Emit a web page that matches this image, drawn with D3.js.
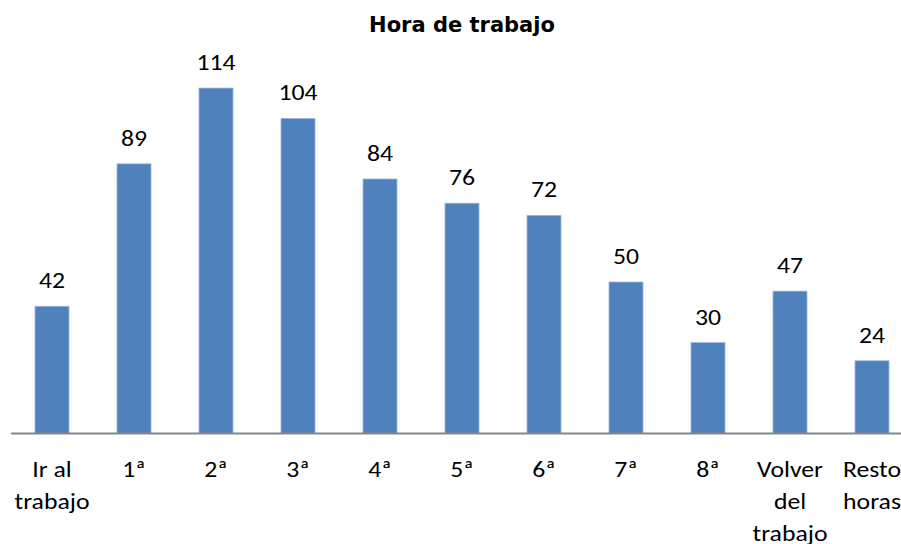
<!DOCTYPE html>
<html>
<head>
<meta charset="utf-8">
<script src="https://cdn.jsdelivr.net/npm/d3@7"></script>
<style>
body { margin: 0; background: #fff; }
svg text { font-family: Carlito, Calibri, "Open Sans", sans-serif; }
</style>
</head>
<body>
<svg id="myGraph" width="901" height="544"></svg>
<script>
// datos
var categorias = [["Ir al", "trabajo"], ["1ª"], ["2ª"], ["3ª"], ["4ª"], ["5ª"], ["6ª"], ["7ª"], ["8ª"], ["Volver", "del", "trabajo"], ["Resto", "horas"]];
var valores = [42, 89, 114, 104, 84, 76, 72, 50, 30, 47, 24];
var titulo = "Hora de trabajo";

var svg = d3.select("#myGraph");
var baseY = 433.5;	// linea del eje
var x0 = 11, paso = 82;
var estirar = 1.12;	// el texto del original sale algo ensanchado

var x = d3.scaleBand()
	.domain(d3.range(valores.length))
	.range([x0, x0 + paso * valores.length])
	.paddingInner(48 / 82)
	.paddingOuter(24 / 82);

var y = d3.scaleLinear().domain([0, 140]).range([baseY, baseY - 140 * 3.03]);

// titulo
svg.append("text")
	.attr("x", 462).attr("y", 32)
	.attr("text-anchor", "middle")
	.style("font-family", "Verdana, 'DejaVu Sans', sans-serif")
	.style("font-weight", "bold")
	.style("font-size", "21px")
	.text(titulo);

// barras
svg.selectAll("rect.bar")
	.data(valores)
	.enter()
	.append("rect")
	.attr("class", "bar")
	.attr("x", function(d, i){ return x(i); })
	.attr("y", function(d){ return y(d); })
	.attr("width", x.bandwidth())
	.attr("height", function(d){ return baseY - y(d); })
	.style("fill", "#4F81BD")
	.style("stroke", "#9DB9DC")
	.style("stroke-width", 0.8);

// etiquetas de valor
svg.selectAll("text.valor")
	.data(valores)
	.enter()
	.append("text")
	.attr("class", "valor")
	.attr("transform", function(d, i){
		return "translate(" + (x(i) + x.bandwidth() / 2) + "," + (y(d) - 18) + ") scale(" + estirar + ",1)";
	})
	.attr("text-anchor", "middle")
	.style("font-size", "23px")
	.style("fill", "#000")
	.text(function(d){ return d; });

// eje
svg.append("line")
	.attr("x1", x0).attr("x2", 901)
	.attr("y1", baseY).attr("y2", baseY)
	.style("stroke", "#868686")
	.style("stroke-width", 2);

// categorias
var cat = svg.selectAll("text.cat")
	.data(categorias)
	.enter()
	.append("text")
	.attr("class", "cat")
	.attr("transform", function(d, i){
		return "translate(" + (x(i) + x.bandwidth() / 2) + ",0) scale(" + estirar + ",1)";
	})
	.attr("text-anchor", "middle")
	.style("font-size", "23px")
	.style("fill", "#000");

cat.selectAll("tspan")
	.data(function(d){ return d; })
	.enter()
	.append("tspan")
	.attr("x", 0)
	.attr("y", function(d, j){ return 477 + j * 32; })
	.text(function(d){ return d; });
</script>
</body>
</html>
